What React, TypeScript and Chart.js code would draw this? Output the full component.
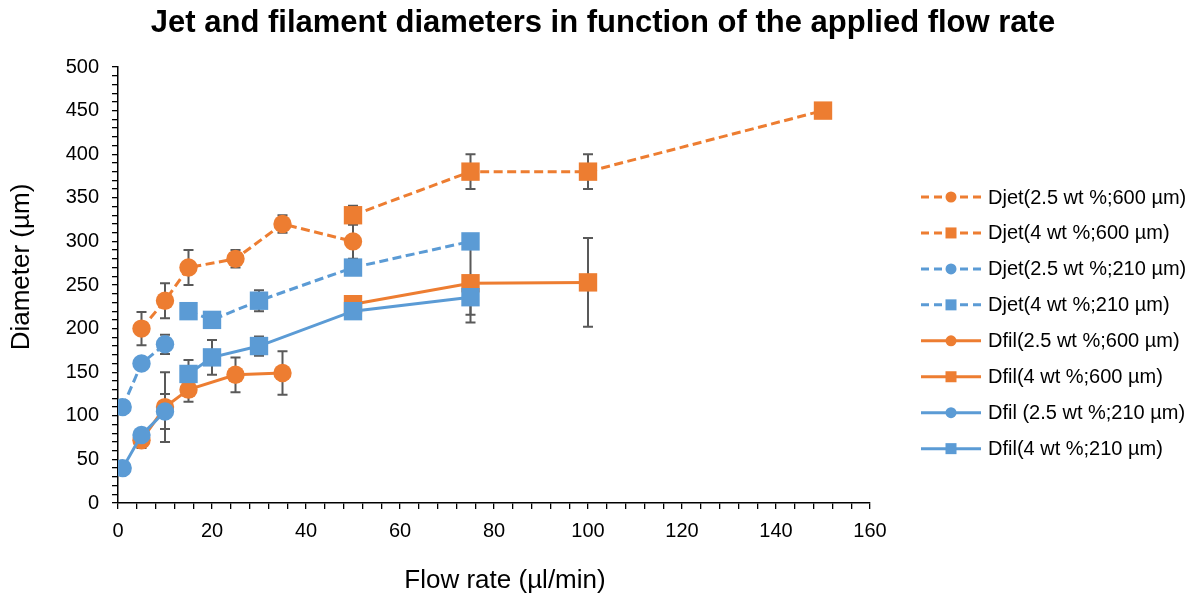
import React, { useEffect, useRef } from "react";
import { Chart, registerables } from "chart.js";

Chart.register(...registerables);

const ORANGE = "#ED7D31";
const BLUE = "#5B9BD5";

const titleText = "Jet and filament diameters in function of the applied flow rate";
const xTitle = "Flow rate (µl/min)";
const yTitle = "Diameter (µm)";

const seriesNames = [
  "Djet(2.5 wt %;600 µm)",
  "Djet(4 wt %;600 µm)",
  "Djet(2.5 wt %;210 µm)",
  "Djet(4 wt %;210 µm)",
  "Dfil(2.5 wt %;600 µm)",
  "Dfil(4 wt %;600 µm)",
  "Dfil (2.5 wt %;210 µm)",
  "Dfil(4 wt %;210 µm)",
];

const djet25_600_x = [5, 10, 15, 25, 35, 50];
const djet25_600_y = [200, 232, 270, 280, 320, 300];
const djet25_600_err = [19, 20, 20, 10, 10, 20];

const djet4_600_x = [50, 75, 100, 150];
const djet4_600_y = [330, 380, 380, 450];
const djet4_600_err = [11, 20, 20, 8];

const djet25_210_x = [1, 5, 10];
const djet25_210_y = [110, 160, 182];
const djet25_210_err = [0, 0, 11];

const djet4_210_x = [15, 20, 30, 50, 75];
const djet4_210_y = [220, 210, 232, 270, 300];
const djet4_210_err = [0, 0, 12, 0, 0];

const dfil25_600_x = [5, 10, 15, 25, 35];
const dfil25_600_y = [72, 110, 130, 147, 149];
const dfil25_600_err = [9, 40, 14, 20, 25];

const dfil4_600_x = [50, 75, 100];
const dfil4_600_y = [228, 252, 253];
const dfil4_600_err = [0, 45, 51];

const dfil25_210_x = [1, 5, 10];
const dfil25_210_y = [40, 78, 105];
const dfil25_210_err = [0, 0, 20];

const dfil4_210_x = [15, 20, 30, 50, 75];
const dfil4_210_y = [148, 167, 180, 220, 236];
const dfil4_210_err = [16, 20, 11, 0, 20];

const xs = [djet25_600_x, djet4_600_x, djet25_210_x, djet4_210_x, dfil25_600_x, dfil4_600_x, dfil25_210_x, dfil4_210_x];
const ys = [djet25_600_y, djet4_600_y, djet25_210_y, djet4_210_y, dfil25_600_y, dfil4_600_y, dfil25_210_y, dfil4_210_y];
const errs = [djet25_600_err, djet4_600_err, djet25_210_err, djet4_210_err, dfil25_600_err, dfil4_600_err, dfil25_210_err, dfil4_210_err];
const colors = [ORANGE, ORANGE, BLUE, BLUE, ORANGE, ORANGE, BLUE, BLUE];
const dashed = [true, true, true, true, false, false, false, false];
const shapes = ["circle", "rect", "circle", "rect", "circle", "rect", "circle", "rect"];

const FONT = "Arial, 'Liberation Sans', sans-serif";

const errorBarPlugin = {
  id: "errorBars",
  beforeDatasetsDraw(chart: any) {
    const ctx = chart.ctx;
    const yScale = chart.scales.y;
    ctx.save();
    ctx.strokeStyle = "#595959";
    ctx.lineWidth = 2;
    chart.data.datasets.forEach((ds: any, di: number) => {
      const meta = chart.getDatasetMeta(di);
      ds.errors.forEach((e: number, i: number) => {
        if (!e) return;
        const pt = meta.data[i];
        const v = ds.data[i].y;
        const top = yScale.getPixelForValue(v + e);
        const bot = yScale.getPixelForValue(v - e);
        const x = pt.x;
        ctx.beginPath();
        ctx.moveTo(x, top);
        ctx.lineTo(x, bot);
        ctx.moveTo(x - 5, top);
        ctx.lineTo(x + 5, top);
        ctx.moveTo(x - 5, bot);
        ctx.lineTo(x + 5, bot);
        ctx.stroke();
      });
    });
    ctx.restore();
  },
};

const textPlugin = {
  id: "texts",
  afterDraw(chart: any) {
    const ctx = chart.ctx;
    ctx.save();
    ctx.fillStyle = "#000";
    ctx.textAlign = "center";
    ctx.textBaseline = "middle";
    ctx.font = `bold 31px ${FONT}`;
    ctx.fillText(titleText, 603, 23);
    ctx.font = `26px ${FONT}`;
    ctx.fillText(xTitle, 505, 581);
    ctx.translate(22, 267);
    ctx.rotate(-Math.PI / 2);
    ctx.fillText(yTitle, 0, 0);
    ctx.restore();
  },
};

const legendPlugin = {
  id: "customLegend",
  afterDraw(chart: any) {
    const ctx = chart.ctx;
    ctx.save();
    const x0 = 921;
    const x1 = 981;
    const xm = 951;
    const tx = 988;
    chart.data.datasets.forEach((ds: any, i: number) => {
      const y = 197 + i * 35.95;
      ctx.strokeStyle = ds.borderColor;
      ctx.lineWidth = 3;
      ctx.setLineDash(ds.borderDash && ds.borderDash.length ? [8, 5] : []);
      ctx.beginPath();
      ctx.moveTo(x0, y);
      ctx.lineTo(x1, y);
      ctx.stroke();
      ctx.setLineDash([]);
      ctx.fillStyle = ds.backgroundColor;
      if (ds.pointStyle === "circle") {
        ctx.beginPath();
        ctx.arc(xm, y, 5.5, 0, Math.PI * 2);
        ctx.fill();
      } else {
        ctx.fillRect(xm - 5.5, y - 5.5, 11, 11);
      }
      ctx.fillStyle = "#000";
      ctx.font = `20px ${FONT}`;
      ctx.textBaseline = "middle";
      ctx.textAlign = "left";
      ctx.fillText(ds.label, tx, y + 1);
    });
    ctx.restore();
  },
};

export default function App() {
  const ref = useRef<HTMLCanvasElement>(null);
  useEffect(() => {
    if (!ref.current) return;
    const datasets = seriesNames.map((name, i) => ({
      label: name,
      data: xs[i].map((x, j) => ({ x, y: ys[i][j] })),
      errors: errs[i],
      borderColor: colors[i],
      backgroundColor: colors[i],
      borderWidth: 3,
      borderDash: dashed[i] ? [9, 4.5] : [],
      pointStyle: shapes[i],
      pointRadius: shapes[i] === "rect" ? 13 : 9.2,
      pointBorderWidth: 0,
      pointHoverRadius: shapes[i] === "rect" ? 13 : 9.2,
      showLine: true,
      tension: 0,
      order: 8 - i,
    }));
    const chart = new Chart(ref.current, {
      type: "scatter",
      data: { datasets } as any,
      plugins: [errorBarPlugin, legendPlugin, textPlugin],
      options: {
        animation: false,
        responsive: true,
        maintainAspectRatio: false,
        layout: { padding: { left: 0, right: 325, top: 67, bottom: 0 } },
        plugins: {
          legend: { display: false },
          tooltip: { enabled: false },
          title: { display: false },
        },
        scales: {
          x: {
            type: "linear",
            min: 0,
            max: 160,
            afterFit: (s: any) => {
              s.height = 98;
            },
            ticks: {
              stepSize: 4,
              autoSkip: false,
              maxRotation: 0,
              maxTicksLimit: 100,
              color: "#000",
              font: { family: FONT, size: 20 },
              padding: 10,
              callback: (v: any) => (Number(v) % 20 === 0 ? String(v) : ""),
            },
            grid: {
              display: true,
              drawOnChartArea: false,
              drawTicks: true,
              tickLength: 6,
              color: "#000",
              lineWidth: 1.3,
            },
            border: { display: true, color: "#000", width: 1.5 },
            title: { display: false },
          },
          y: {
            type: "linear",
            min: 0,
            max: 500,
            afterFit: (s: any) => {
              s.width = 118;
            },
            ticks: {
              stepSize: 10,
              autoSkip: false,
              maxTicksLimit: 100,
              color: "#000",
              font: { family: FONT, size: 20 },
              padding: 13,
              callback: (v: any) => (Number(v) % 50 === 0 ? String(v) : ""),
            },
            grid: {
              display: true,
              drawOnChartArea: false,
              drawTicks: true,
              tickLength: 6,
              color: "#000",
              lineWidth: 1.3,
            },
            border: { display: true, color: "#000", width: 1.5 },
            title: { display: false },
          },
        },
      } as any,
    });
    return () => chart.destroy();
  }, []);
  return (
    <div style={{ position: "absolute", left: 0, top: 0, width: 1195, height: 601, background: "#fff" }}>
      <canvas ref={ref} />
    </div>
  );
}
